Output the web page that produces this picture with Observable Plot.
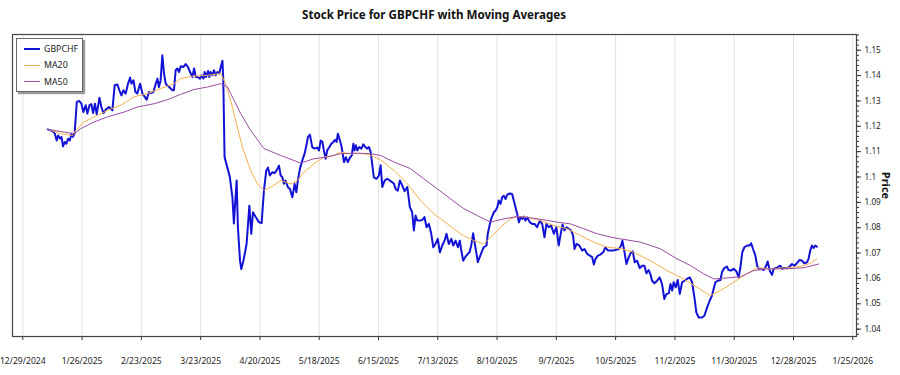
<!DOCTYPE html>
<html>
<head>
<meta charset="utf-8">
<script src="https://cdn.jsdelivr.net/npm/d3@7"></script>
<script src="https://cdn.jsdelivr.net/npm/@observablehq/plot@0.6"></script>
<style>
  body { margin: 0; background: #fff; font-family: "Noto Sans", sans-serif; }
  #wrap { position: relative; width: 900px; height: 375px; overflow: hidden; }
  #title { height: 26px; width: 868px; text-align: center; font-weight: bold; font-size: 11.6px; line-height: 30px; color: #111; }
  #legend { position: absolute; left: 16px; top: 38px; width: 65px; height: 52px; border: 1px solid #666; background: #fff; box-shadow: 2px 2px 1px #999; font-size: 8.8px; color: #222; }
  .item { position: absolute; left: 7px; height: 12px; display: flex; align-items: center; white-space: nowrap; }
  .sw { width: 16px; height: 0; margin-right: 4px; }
</style>
</head>
<body>
<div id="wrap">
  <div id="title">Stock Price for GBPCHF with Moving Averages</div>
  <div id="chart"></div>
  <div id="legend"></div>
</div>
<script>
// ---- data: days since START_DATE ----
const START_DATE = "2024-12-29";
const seriesNames = ["GBPCHF", "MA20", "MA50"];
const seriesColors = ["#1212d6", "#f4b04a", "#9b4ca6"];

const priceDay = [
  11.8,14.0,15.1,16.0,16.7,17.6,18.3,19.0,19.8,20.6,
  21.4,22.2,23.0,23.7,24.5,25.5,26.6,27.7,28.6,29.7,
  30.5,31.5,32.4,33.2,34.1,34.9,36.2,37.1,38.1,39.2,
  40.7,42.3,43.4,44.7,45.6,46.6,47.5,48.6,49.7,50.7,
  51.3,52.3,53.2,54.1,55.4,56.5,57.6,58.5,59.6,60.4,
  61.7,62.8,63.6,64.3,65.1,65.9,66.7,67.5,69.1,70.7,
  71.4,72.2,73.0,73.8,74.6,75.9,76.9,78.0,79.0,80.1,
  80.9,81.7,82.7,83.7,84.5,85.3,85.9,86.5,87.5,88.1,
  88.7,89.5,90.3,91.1,91.9,92.8,93.5,94.3,94.7,95.3,
  96.6,97.8,99.0,99.7,101.0,101.6,102.6,103.2,104.2,105.7,
  107.0,107.9,108.7,110.0,111.5,112.8,113.9,115.0,115.8,116.7,
  117.9,118.9,119.9,121.0,121.8,122.6,123.3,124.1,125.2,126.2,
  127.3,128.4,129.2,129.9,130.9,132.0,133.1,134.1,134.7,135.6,
  136.7,137.8,139.1,139.9,140.7,141.5,142.2,143.0,143.8,144.8,
  145.7,146.7,147.4,148.2,148.8,149.8,150.6,151.7,152.6,153.5,
  154.5,155.4,156.1,156.7,157.3,158.0,158.9,159.9,160.8,161.8,
  162.7,163.5,164.3,165.1,165.8,167.1,168.2,169.0,169.8,170.9,
  172.1,173.4,174.5,175.3,176.1,177.1,178.1,179.2,180.3,181.6,
  182.8,183.9,184.7,185.5,186.3,187.5,188.7,189.7,190.7,191.8,
  192.9,193.9,194.9,196.0,197.0,198.1,199.2,200.1,201.2,202.4,
  203.3,204.4,205.5,206.4,207.1,208.0,209.1,210.2,211.0,211.8,
  212.7,213.5,214.3,214.9,215.8,217.0,217.7,219.0,219.6,220.6,
  221.2,222.5,223.3,224.1,224.8,225.6,226.4,227.2,228.0,228.8,
  230.0,231.1,231.9,232.7,233.5,234.3,235.1,235.9,236.6,237.4,
  238.2,239.5,240.6,241.7,242.9,244.2,245.3,246.4,247.3,248.4,
  249.5,250.8,252.0,253.1,253.9,254.9,255.8,256.8,257.8,259.0,
  259.9,260.6,261.5,262.8,264.2,265.3,266.5,267.8,268.9,269.7,
  270.5,271.6,272.8,274.1,275.2,276.3,277.4,278.8,279.9,281.5,
  282.6,283.2,284.2,285.1,286.2,287.3,288.1,289.0,290.1,291.4,
  292.5,293.6,294.5,295.6,296.4,297.2,298.3,299.6,300.8,301.9,
  303.0,304.0,305.1,305.9,306.7,307.4,308.4,309.3,310.3,311.4,
  312.5,313.7,315.0,316.1,317.2,318.1,319.2,320.8,321.9,323.2,
  324.4,325.5,326.3,327.1,328.2,329.5,330.2,331.3,332.6,333.3,
  334.5,335.7,337.0,338.1,338.9,339.8,340.8,342.1,343.3,344.0,
  344.9,346.0,346.8,347.6,348.7,349.9,351.1,351.8,352.8,353.9,
  354.6,355.9,357.0,357.8,358.6,359.7,360.9,362.2,363.3,364.4,
  365.6,366.9,368.0,369.1,370.4,371.1,371.9,372.7,373.5,374.3,
  375.1
];
const priceValue = [
  1.1188,1.1181,1.1172,1.1144,1.1164,1.1152,1.1158,1.1121,1.1138,1.1131,
  1.1151,1.1144,1.1171,1.1158,1.1173,1.1296,1.1300,1.1289,1.1256,1.1283,
  1.1250,1.1283,1.1287,1.1252,1.1289,1.1247,1.1313,1.1276,1.1252,1.1266,
  1.1276,1.1263,1.1362,1.1365,1.1342,1.1322,1.1342,1.1329,1.1368,1.1392,
  1.1368,1.1381,1.1335,1.1329,1.1368,1.1329,1.1316,1.1305,1.1335,1.1331,
  1.1335,1.1368,1.1388,1.1355,1.1381,1.1480,1.1408,1.1368,1.1355,1.1342,
  1.1342,1.1421,1.1428,1.1414,1.1437,1.1434,1.1445,1.1434,1.1414,1.1394,
  1.1428,1.1394,1.1394,1.1388,1.1401,1.1388,1.1414,1.1394,1.1418,1.1394,
  1.1414,1.1401,1.1421,1.1401,1.1414,1.1408,1.1434,1.1458,1.1381,1.1078,
  1.1038,1.0999,1.0920,1.0817,1.0986,1.0802,1.0670,1.0637,1.0670,1.0736,
  1.0887,1.0776,1.0861,1.0842,1.0822,1.0818,1.0947,1.1026,1.1037,1.1006,
  1.1019,1.1015,1.1026,1.1045,1.1006,1.0999,1.0973,1.0986,1.0960,1.0953,
  1.0920,1.0973,1.0940,1.0986,1.1033,1.1065,1.1092,1.1131,1.1158,1.1167,
  1.1118,1.1112,1.1116,1.1105,1.1144,1.1138,1.1105,1.1072,1.1105,1.1118,
  1.1131,1.1138,1.1147,1.1138,1.1171,1.1144,1.1118,1.1059,1.1078,1.1059,
  1.1076,1.1085,1.1131,1.1105,1.1125,1.1105,1.1118,1.1112,1.1129,1.1118,
  1.1112,1.1118,1.1098,1.1046,1.0999,1.0993,1.1006,1.1046,1.0961,1.0986,
  1.0993,1.0986,1.0979,1.0973,1.0953,1.0946,1.0986,1.0967,1.0944,1.0960,
  1.0881,1.0861,1.0789,1.0848,1.0828,1.0828,1.0831,1.0842,1.0802,1.0815,
  1.0776,1.0723,1.0736,1.0756,1.0703,1.0730,1.0749,1.0776,1.0736,1.0756,
  1.0730,1.0749,1.0723,1.0749,1.0710,1.0670,1.0686,1.0697,1.0703,1.0730,
  1.0778,1.0736,1.0697,1.0664,1.0684,1.0710,1.0723,1.0730,1.0776,1.0815,
  1.0835,1.0861,1.0868,1.0881,1.0907,1.0894,1.0920,1.0926,1.0913,1.0930,
  1.0935,1.0933,1.0907,1.0881,1.0854,1.0821,1.0841,1.0835,1.0844,1.0828,
  1.0841,1.0821,1.0815,1.0815,1.0802,1.0828,1.0815,1.0762,1.0815,1.0802,
  1.0809,1.0776,1.0802,1.0730,1.0769,1.0813,1.0789,1.0802,1.0796,1.0789,
  1.0769,1.0716,1.0736,1.0730,1.0710,1.0716,1.0697,1.0690,1.0684,1.0655,
  1.0677,1.0690,1.0694,1.0703,1.0723,1.0710,1.0710,1.0710,1.0712,1.0716,
  1.0730,1.0749,1.0703,1.0657,1.0684,1.0703,1.0707,1.0664,1.0670,1.0641,
  1.0650,1.0650,1.0620,1.0633,1.0617,1.0591,1.0581,1.0591,1.0604,1.0578,
  1.0519,1.0539,1.0541,1.0578,1.0552,1.0585,1.0565,1.0594,1.0539,1.0585,
  1.0591,1.0598,1.0604,1.0585,1.0525,1.0466,1.0446,1.0446,1.0453,1.0486,
  1.0512,1.0532,1.0559,1.0585,1.0591,1.0594,1.0624,1.0641,1.0647,1.0633,
  1.0631,1.0638,1.0628,1.0604,1.0643,1.0703,1.0723,1.0730,1.0730,1.0739,
  1.0716,1.0690,1.0650,1.0638,1.0638,1.0633,1.0650,1.0667,1.0630,1.0614,
  1.0638,1.0641,1.0647,1.0650,1.0638,1.0641,1.0641,1.0647,1.0657,1.0650,
  1.0660,1.0673,1.0670,1.0660,1.0664,1.0677,1.0710,1.0730,1.0720,1.0730,
  1.0725
];

const ma20Day = [
  11.8,17.9,23.5,25.0,28.9,35.3,40.0,46.3,52.5,58.9,
  65.1,71.4,74.6,79.3,87.2,93.5,95.8,99.0,101.3,103.7,
  107.6,110.8,113.9,117.1,121.8,126.5,129.7,132.8,137.5,142.2,
  146.9,150.1,154.8,161.1,164.3,169.0,175.3,181.6,187.9,194.1,
  200.5,206.7,213.0,217.7,220.9,225.6,230.3,233.5,238.2,244.5,
  250.8,257.1,263.4,269.7,276.0,282.3,288.5,296.4,304.3,312.1,
  318.5,324.7,329.5,335.7,340.5,346.8,353.1,361.0,367.3,372.0,
  375.1
];
const ma20Value = [
  1.1188,1.1171,1.1164,1.1184,1.1217,1.1243,1.1263,1.1283,1.1316,1.1329,
  1.1349,1.1368,1.1388,1.1397,1.1401,1.1408,1.1368,1.1276,1.1197,1.1118,
  1.1026,1.0973,1.0947,1.0960,1.0986,1.0973,1.0986,1.1019,1.1052,1.1079,
  1.1085,1.1098,1.1092,1.1092,1.1085,1.1068,1.1026,1.0973,1.0907,1.0855,
  1.0815,1.0776,1.0749,1.0736,1.0762,1.0802,1.0835,1.0845,1.0841,1.0828,
  1.0809,1.0796,1.0769,1.0743,1.0723,1.0718,1.0703,1.0670,1.0631,1.0598,
  1.0565,1.0532,1.0552,1.0585,1.0611,1.0642,1.0638,1.0642,1.0647,1.0660,
  1.0678
];

const ma50Day = [
  11.8,19.5,24.2,27.4,33.7,40.0,47.8,54.1,62.0,68.3,
  74.6,80.9,87.2,93.5,96.6,98.2,102.9,107.6,113.9,121.8,
  131.2,137.5,143.8,150.1,158.0,164.3,169.0,175.3,183.1,189.4,
  195.7,202.0,208.3,214.6,220.9,227.2,233.5,239.8,246.1,252.4,
  258.7,264.9,271.3,277.5,282.3,291.7,301.1,309.0,315.3,321.6,
  326.3,332.6,338.9,345.2,351.5,360.9,368.8,375.9
];
const ma50Value = [
  1.1188,1.1177,1.1171,1.1191,1.1217,1.1237,1.1256,1.1276,1.1289,1.1305,
  1.1326,1.1345,1.1355,1.1368,1.1355,1.1329,1.1250,1.1184,1.1112,1.1085,
  1.1055,1.1072,1.1079,1.1092,1.1094,1.1092,1.1085,1.1059,1.1033,1.0993,
  1.0954,1.0914,1.0875,1.0848,1.0822,1.0835,1.0844,1.0839,1.0831,1.0822,
  1.0815,1.0796,1.0776,1.0763,1.0756,1.0743,1.0717,1.0677,1.0651,1.0618,
  1.0598,1.0602,1.0607,1.0631,1.0638,1.0638,1.0642,1.0657
];

const xTickDates = ["2024-12-29","2025-01-26","2025-02-23","2025-03-23","2025-04-20",
  "2025-05-18","2025-06-15","2025-07-13","2025-08-10","2025-09-07","2025-10-05",
  "2025-11-02","2025-11-30","2025-12-28","2026-01-25"];
const yTicks = [1.04,1.05,1.06,1.07,1.08,1.09,1.10,1.11,1.12,1.13,1.14,1.15];
const yLabel = "Price";

// ---- build ----
const start = new Date(START_DATE + "T00:00:00Z");
const toDate = d => new Date(+start + d * 864e5);
const rows = (days, vals) => days.map((d, i) => ({date: toDate(d), value: vals[i]}));
const price = rows(priceDay, priceValue);
const ma20 = rows(ma20Day, ma20Value);
const ma50 = rows(ma50Day, ma50Value);
const xTicks = xTickDates.map(s => new Date(s + "T00:00:00Z"));
const fmtDate = d => `${d.getUTCMonth() + 1}/${d.getUTCDate()}/${d.getUTCFullYear()}`;
const fmtY = v => String(+v.toFixed(2));
const minorTicks = d3.range(1038, 1157, 2).map(v => v / 1000);

const chart = Plot.plot({
  width: 900, height: 349,
  marginTop: 8, marginBottom: 39, marginLeft: 12, marginRight: 44,
  style: {fontFamily: "Noto Sans", fontSize: "9px", color: "#222", background: "white"},
  x: {type: "utc", domain: [toDate(-4.86), toDate(393.75)]},
  y: {domain: [1.0371, 1.1562]},
  marks: [
    Plot.gridX(xTicks, {stroke: "#e2e2e2", strokeOpacity: 1}),
    Plot.axisX(xTicks, {tickFormat: fmtDate, tickSize: 4, tickPadding: 17, fontSize: 8.6, label: null, stroke: "#333"}),
    Plot.axisY(minorTicks, {anchor: "right", tickSize: 2, tickFormat: () => "", label: null, stroke: "#333"}),
    Plot.axisY(yTicks, {anchor: "right", tickSize: 4, tickPadding: 4, tickFormat: fmtY, label: null, fontSize: 8.2, stroke: "#333"}),
    Plot.frame({stroke: "#444", strokeWidth: 1.2}),
    Plot.line(price, {x: "date", y: "value", stroke: seriesColors[0], strokeWidth: 2}),
    Plot.line(ma20, {x: "date", y: "value", stroke: seriesColors[1], strokeWidth: 1}),
    Plot.line(ma50, {x: "date", y: "value", stroke: seriesColors[2], strokeWidth: 1}),
    Plot.text([yLabel], {frameAnchor: "right", dx: 29, rotate: 90, fontWeight: "bold", fontSize: 11, textAnchor: "middle", lineAnchor: "middle", fill: "#111"})
  ]
});
document.getElementById("chart").appendChild(chart);

// legend
const legend = document.getElementById("legend");
const centers = [10, 26, 42.5];
const widths = [2, 1, 1];
seriesNames.forEach((name, i) => {
  const item = document.createElement("div");
  item.className = "item";
  item.style.top = (centers[i] - 6) + "px";
  const sw = document.createElement("span");
  sw.className = "sw";
  sw.style.borderTop = `${widths[i]}px solid ${seriesColors[i]}`;
  item.appendChild(sw);
  item.appendChild(document.createTextNode(name));
  legend.appendChild(item);
});
</script>
</body>
</html>
